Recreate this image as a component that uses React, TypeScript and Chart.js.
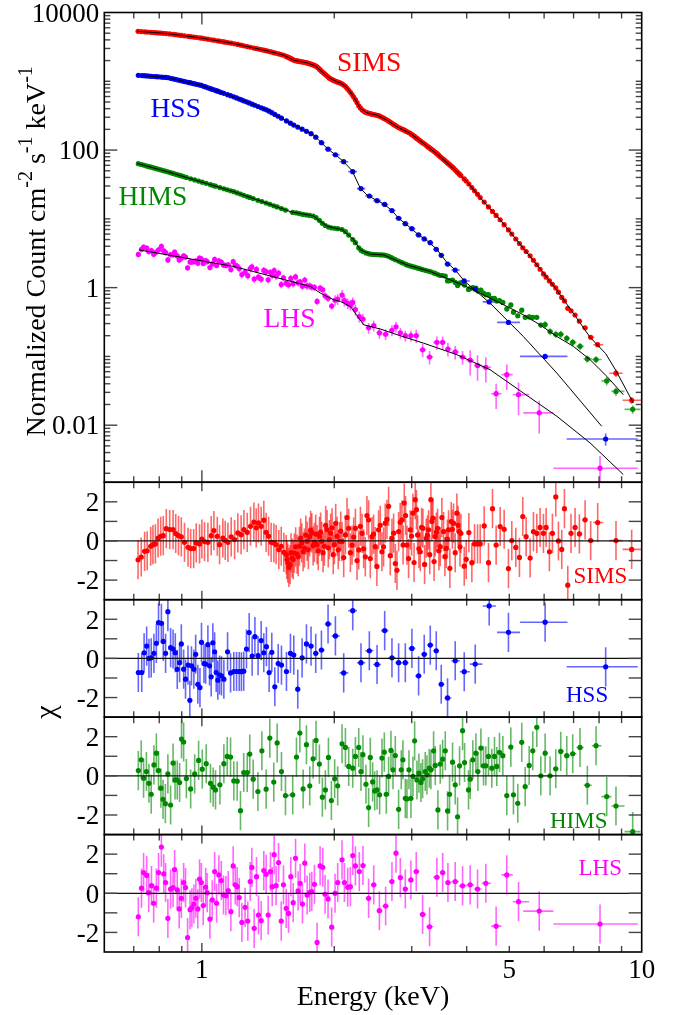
import React, { useEffect, useRef } from 'react';
import { Chart, registerables } from 'chart.js';

Chart.register(...registerables);

// ---------------- SIMS ----------------
const simsE = [0.716,0.728,0.741,0.751,0.765,0.774,0.784,0.795,0.806,0.817,0.830,
0.845,0.860,0.872,0.885,0.898,0.913,0.930,0.943,0.958,0.971,0.988,
1.000,1.014,1.032,1.050,1.065,1.084,1.097,1.116,1.130,1.146,1.166,
1.187,1.207,1.228,1.246,1.268,1.290,1.313,1.329,1.345,1.364,1.383,1.400,
1.418,1.437,1.458,1.475,1.496,1.515,1.536,1.555,1.568,
1.587,1.604,1.623,1.646,1.667,1.687,1.711,1.735,1.757,1.778,1.803,1.828,1.851,1.873,1.899,1.926,1.950,1.977,2.001,2.030,2.055,
2.083,2.120,2.157,2.195,2.234,2.273,2.313,2.353,2.394,2.436,2.479,2.522,2.567,2.612,2.658,2.705,
2.753,2.801,2.850,2.885,2.926,2.977,3.019,3.056,3.094,3.137,3.181,3.237,3.277,3.317,3.352,3.393,3.435,
3.483,3.544,3.594,3.638,3.689,3.734,3.800,3.847,3.880,
3.949,3.990,4.046,4.110,4.168,4.234,4.293,4.384,4.484,4.579,4.667,4.766,4.867,4.978,
5.066,5.173,5.273,5.366,5.461,5.576,5.674,5.774,5.875,5.979,6.063,6.169,6.266,6.377,6.467,6.580,6.673,6.791,6.907,7.055,7.217,7.435,7.656,7.943,8.740,9.488];
const simsF = [5320,5280,5240,5200,5150,5120,5090,5050,5020,4980,4940,
4880,4810,4754,4697,4641,4578,4508,4457,4399,4351,4289,
4238,4174,4094,4018,3957,3881,3831,3760,3709,3653,3585,
3511,3430,3348,3280,3200,3123,3047,2996,2946,2889,2834,2786,
2730,2670,2607,2557,2498,2446,2391,2300,2250,
2170,2090,2015,1975,1945,1915,1885,1851,1800,1760,1700,1620,1500,1390,1290,1190,1110,1060,1015,980,955,
915,845,740,640,540,440,385,355,343,333,325,316,300,282,264,245,
228,212,202,195,186,175,164,154,145,136,127,117,110,104,99,93,87,
80,73,67.5,63,58.5,54.5,48.5,45,42.5,
38,35.5,32.1,28.5,25.6,22.7,20.4,17.5,14.9,12.8,11.2,9.7,8.23,6.89,
6.0,5.09,4.38,3.8,3.35,2.9,2.5,2.15,1.85,1.58,1.42,1.25,1.12,0.99,0.86,0.72,0.64,0.50,0.46,0.40,0.325,0.26,0.19,0.148,0.057,0.023];
const simsChi = [-0.96,-0.82,-0.53,-0.50,-0.27,-0.19,-0.15,0.15,0.24,0.27,0.63,
0.58,0.58,0.38,0.27,0.21,-0.07,-0.32,-0.39,-0.39,-0.10,-0.15,
0.10,-0.03,-0.07,0.27,0.53,0.24,-0.19,0.15,0.03,-0.07,0.21,
0.07,0.41,0.32,0.58,0.44,0.75,0.96,0.67,0.92,0.75,1.06,0.44,
0.24,-0.07,-0.10,-0.19,-0.44,-0.27,-0.58,-0.70,-1.13,
-1.21,-0.87,-0.62,-0.67,-0.27,-0.10,-0.36,-0.02,0.21,0.41,-0.07,-0.19,0.24,-0.02,-0.27,0.58,0.07,0.67,-0.19,0.24,-0.02,
-0.03,0.31,0.65,-0.21,0.65,-0.46,0.39,-0.81,1.08,0.22,-0.29,0.57,-0.55,0.91,1.77,0.14,
-1.15,0.48,1.08,1.94,-0.21,0.57,1.42,2.11,0.31,-0.55,0.65,0.14,0.57,2.11,1.17,0.22,0.65,
-0.29,0.48,-0.38,0.57,0.99,0.91,1.42,0.48,0.39,
-1.29,-0.94,0.43,-1.11,-0.15,-0.15,-0.15,0.77,-1.11,1.65,-0.21,0.74,0.60,-1.41,
0.02,-0.33,-0.84,1.25,0.22,-0.87,0.48,0.39,0.69,0.39,0.69,-0.55,0.39,2.25,0.0,-0.43,1.65,-2.26,0.39,0.69,0.36,1.08,0.02,0.94,0.02,-0.43];
// extra (finer) SIMS bins inside the crowded 1.55-3.9 keV band
const simsDenseE = [1.561,1.577,1.595,1.613,1.634,1.656,1.677,1.699,1.723,1.746,1.767,1.790,1.815,1.839,1.862,1.886,1.912,1.938,1.963,1.989,2.015,2.042,
2.069,2.101,2.138,2.176,2.214,2.253,2.293,2.333,2.373,2.415,2.457,2.500,2.544,2.589,2.635,2.681,2.729,2.777,2.825,2.867,2.905,2.951,2.998,
3.037,3.075,3.115,3.159,3.209,3.257,3.297,3.334,3.372,3.414,3.459,3.513,3.569,3.616,3.663,3.711,3.767,3.823,3.863];
const simsDenseF = [2275,2210,2130,2052,1995,1960,1930,1900,1868,1825,1780,1730,1660,1560,1445,1340,1240,1150,1085,1037,997,967,
935,880,792,690,590,490,410,370,349,338,329,320,308,291,273,254,236,220,207,198,190,180,169,
159,149,140,131,122,113,107,101,96,90,83.5,76.5,70,65,60.7,56.5,51.4,46.7,43.7];
const simsDenseChi = [-0.95,-1.35,-0.6,-0.95,-0.3,-0.8,0.15,-0.55,0.3,-0.45,0.55,-0.25,0.35,-0.5,0.45,-0.6,0.8,-0.35,0.4,-0.7,0.9,-0.45,
0.5,-0.85,1.2,-0.6,0.2,-1.0,0.75,-0.4,1.3,-0.9,0.35,-1.3,0.8,-0.3,1.1,-0.75,0.4,-1.5,0.95,-0.2,1.3,-0.9,0.25,
-1.1,1.6,-0.4,0.7,-1.2,0.3,-0.7,1.0,-1.05,0.45,-0.5,1.2,-0.8,0.1,-1.4,0.6,-0.6,0.8,-0.3];
const simsModelE = [0.713,0.834,0.993,1.182,1.407,1.536,1.618,1.735,1.813,1.877,1.943,2.029,2.065,2.138,2.214,2.293,2.374,2.502,2.636,2.777,2.977,3.192,3.483,3.80,4.005,4.37,4.77,5.38,5.88,6.41,7.0,7.63,8.28,8.74,9.57];
const simsModelF = [5333,4933,4270,3532,2765,2391,2024,1851,1675,1371,1135,981,948,812,594,402,348,322,272,218,175,125,80,48.5,34.7,17.8,9.64,3.74,1.87,0.92,0.42,0.19,0.11,0.062,0.021];
const simsErrLevels = [[4, 0.01], [6, 0.02], [8, 0.05], [11, 0.12]];
const simsWideBins = [[7.943, 7.76, 8.18], [8.74, 8.44, 9.05], [9.488, 9.05, 10.0]];

// ---------------- HSS ----------------
const hssE = [0.717,0.730,0.739,0.749,0.758,0.767,0.778,0.788,0.797,0.809,0.817,0.827,0.837,
0.849,0.860,0.870,0.879,0.890,0.898,0.909,0.918,0.930,0.939,0.947,0.959,0.968,0.979,0.990,0.998,
1.011,1.020,1.032,1.041,1.050,1.059,1.069,1.078,1.087,1.097,1.108,1.122,
1.144,1.162,1.182,1.199,1.216,1.230,1.245,1.263,1.281,1.301,1.320,1.342,1.364,1.383,1.402,
1.422,1.442,1.465,1.491,1.517,1.557,1.590,1.618,1.652,1.690,1.729,1.771,1.815,1.870,1.936,2.012,
2.101,2.203,2.300,2.403,2.502,2.604,2.705,2.801,2.901,3.003,3.110,3.203,3.306,3.411,3.501,3.619,3.767,3.949,4.183,4.500,4.978,6.031,8.281];
const hssF = [1221,1212,1205,1197,1189,1182,1173,1165,1159,1150,1144,1137,1131,
1105,1084,1066,1050,1031,1018,1000,985,967,953,941,924,912,897,882,872,
843,827,805,790,775,760,744,730,717,702,687,668,
639,617,594,573,553,537,520,502,484,465,448,430,412,398,385,
367,349,330,310,291,265,246,231,216,201,187,173,154,128,103,85.4,
67.7,48.5,27.5,21.5,18.4,16.2,13.2,10.2,8.5,7.2,5.84,5.1,4.5,3.6,2.95,2.2,1.8,1.25,0.95,0.62,0.312,0.100,0.0063];
const hssChi = [-0.72,-0.72,0.29,0.63,0,0.03,0.26,0.77,1.83,1.79,0.87,0.26,2.39,
0.55,0.48,0.29,-0.56,-0.22,0.74,-0.55,-1.06,-0.34,-2.14,-0.38,-0.55,0.21,-1.32,-1.49,0.82,
-0.26,-0.29,0.70,-0.38,-0.94,0.80,0.34,-0.72,-1.11,-0.85,-0.89,-1.06,
0.34,-0.74,-0.67,-0.67,-0.67,-0.68,-0.65,0.48,1.32,0.12,1.11,0.14,0.91,0.29,0.60,
-0.72,0.31,-1.45,-0.26,-0.34,-0.67,0.26,0.17,-1.57,0.03,0.74,0.63,0.26,0.43,1.76,1.15,
-0.74,2.44,-0.22,0.39,-0.31,1.42,0.03,-0.22,-0.22,0.51,-0.89,0.21,0.68,0.39,-1.32,-2.02,-0.12,-0.68,-0.29,2.68,1.33,1.85,-0.43];
const hssModelE = [0.713,0.834,0.993,1.182,1.407,1.618,1.796,1.926,2.029,2.101,2.195,2.293,2.374,2.502,2.59,2.705,2.80,2.926,3.11,3.25,3.42,3.61,3.77,3.95,4.07,4.52,5.38,6.41,8.11];
const hssModelF = [1226,1134,878,594,381,231,165,106,81.8,67.7,50.1,27.8,22.2,18.4,16.5,13.2,10.2,8.16,5.84,4.83,3.62,2.3,1.8,1.25,1.06,0.595,0.195,0.0574,0.00965];
const hssErrLevels = [[3, 0.01], [4.3, 0.03], [5.5, 0.06], [7, 0.08], [11, 0.2]];
const hssWideBins = [[4.5, 4.35, 4.66], [4.978, 4.69, 5.29], [6.031, 5.29, 6.78], [8.281, 6.75, 9.79]];

// ---------------- HIMS ----------------
const himsE = [0.717,0.728,0.737,0.748,0.758,0.767,0.778,0.788,0.797,0.807,0.816,0.826,0.837,
0.849,0.860,0.869,0.879,0.890,0.899,0.909,0.922,0.943,0.963,0.983,
1.002,1.023,1.046,1.061,1.074,1.099,1.122,1.142,1.162,1.182,
1.203,1.224,1.245,1.268,1.285,1.308,1.341,1.369,1.400,1.427,1.457,1.483,1.517,1.549,
1.609,1.641,1.670,1.699,1.729,1.759,1.790,1.818,1.850,1.879,1.909,1.940,1.970,2.004,2.036,
2.083,2.120,2.157,2.203,2.234,2.273,2.300,2.324,2.361,2.394,
2.415,2.445,2.471,2.502,2.536,2.567,2.599,2.626,2.658,2.691,
2.720,2.753,2.801,2.840,2.865,2.901,2.926,2.957,2.988,3.019,
3.046,3.083,3.115,3.148,3.176,3.220,3.249,3.289,3.317,3.364,
3.393,3.441,3.483,3.527,3.576,3.619,3.657,3.715,3.767,3.814,
3.854,3.915,3.956,4.039,4.074,4.131,4.198,4.242,4.309,4.369,
4.422,4.484,4.563,4.627,4.683,4.750,4.834,4.935,5.040,5.110,
5.227,5.337,5.433,5.548,5.654,5.774,5.897,6.031,6.190,6.377,
6.545,6.755,6.970,7.241,7.524,7.875,8.326,8.740,9.539];
const himsF = [63.4,61.7,60.4,58.8,57.4,56.3,54.9,53.6,52.6,51.4,50.4,49.3,48.2,
46.9,45.7,44.8,43.8,42.8,42.0,41.1,40.0,38.3,36.8,35.4,
34.1,32.8,31.4,30.5,29.8,28.5,27.4,26.5,25.6,24.8,
23.8,22.9,22.0,21.1,20.5,19.7,18.6,17.8,17.0,16.3,15.5,14.9,14.1,13.4,
12.4,12.2,11.9,11.6,11.4,11.2,11.0,10.4,9.5,8.6,8.0,7.6,7.4,7.3,7.2,
7.0,6.5,5.8,5.0,4.5,3.8,3.5,3.35,3.2,3.12,
3.07,3.05,3.03,3.02,3.0,2.99,2.97,2.92,2.85,2.75,
2.65,2.55,2.43,2.34,2.28,2.2,2.14,2.09,2.05,2.01,
1.98,1.94,1.9,1.86,1.83,1.79,1.76,1.73,1.70,1.64,
1.61,1.55,1.50,1.50,1.47,1.25,1.26,1.29,1.19,1.07,
1.16,1.19,1.09,0.94,0.97,1.0,0.98,0.89,0.92,0.83,
0.79,0.79,0.70,0.70,0.64,0.65,0.61,0.49,0.56,0.44,
0.39,0.47,0.37,0.375,0.37,0.37,0.285,0.29,0.23,0.21,
0.21,0.183,0.16,0.14,0.092,0.09,0.044,0.031,0.017];
const himsChi = [0.27,0.82,-0.12,0.22,-0.38,-0.94,0.56,1.16,0.27,-0.63,-1.20,-1.42,0.10,
-1.49,0.65,-0.21,-0.21,-0.34,1.88,1.73,-0.14,-0.67,0.10,0.79,
0.34,0.62,-0.38,-0.58,-0.72,-0.46,0.62,0.99,0.96,-0.26,
-0.27,-1.78,0.17,0.17,1.11,-0.17,-0.80,1.28,-0.68,1.93,-0.32,1.68,0.22,-1.01,
-0.97,0.96,2.19,-0.67,1.59,-0.51,0.87,1.81,0.60,-1.09,-0.72,0.94,-1.26,-0.15,-0.51,
1.64,1.45,0.48,0.39,0.99,1.45,0.22,1.08,-0.43,-1.62,
0.94,-0.31,-0.77,-0.72,-0.97,0.91,1.21,-0.94,-0.03,1.30,
0.31,1.04,-1.71,0.31,0.82,-1.15,-1.18,0.31,-1.15,-0.03,
1.79,-0.21,0.14,-0.34,-0.15,0.22,0.05,0.39,0.31,1.28,
0.53,-1.74,0.60,0.85,1.28,-1.79,-0.94,0.70,-0.46,-2.09,
0.51,2.31,0.68,-0.72,-0.17,0.82,1.16,0.22,1.42,0.51,
0.51,0.99,0.39,0.99,0.48,1.20,1.03,-1.01,1.47,-0.97,
-1.40,1.71,-0.55,0.53,1.28,2.48,0.0,1.16,0.0,0.36,
1.25,1.03,1.13,1.45,-0.48,1.54,-1.06,-1.54,-2.85];
const himsModelE = [0.713,0.834,0.993,1.182,1.407,1.59,1.796,1.85,1.926,2.029,2.083,2.214,2.293,2.415,2.59,2.926,3.31,3.67,4.15,4.52,4.94,5.38,5.87,6.41,6.99,7.63,8.33,9.08];
const himsModelF = [64.0,48.5,34.7,24.8,16.8,12.7,11.0,9.4,7.8,7.2,7.0,4.94,3.54,3.07,2.99,2.14,1.71,1.30,0.929,0.703,0.532,0.403,0.288,0.195,0.140,0.0896,0.0513,0.0278];
const himsErrLevels = [[2, 0.02], [3.5, 0.03], [4, 0.04], [6, 0.08], [8, 0.12], [11, 0.14]];
const himsWideBins: number[][] = [];

// ---------------- LHS ----------------
const lhsE = [0.717,0.729,0.737,0.749,0.757,0.768,0.777,0.788,0.797,0.809,0.819,0.827,
0.837,0.849,0.860,0.867,0.879,0.888,0.898,0.909,0.918,0.928,0.940,0.949,0.959,0.969,0.979,0.988,0.997,
1.007,1.020,1.028,1.043,1.056,1.069,1.080,1.093,1.107,1.120,1.134,1.148,1.164,1.178,
1.191,1.203,1.216,1.233,1.254,1.272,1.288,1.299,1.315,1.331,1.345,1.364,1.383,1.400,
1.415,1.432,1.445,1.460,1.475,1.494,1.515,1.533,1.555,1.574,1.593,1.613,1.633,1.655,1.673,1.693,1.714,1.735,1.759,
1.778,1.803,1.828,1.857,1.883,1.906,1.936,1.973,2.008,2.036,
2.083,2.109,2.146,2.176,2.203,2.234,2.280,2.324,2.394,2.459,2.533,2.617,2.705,2.763,2.826,2.901,2.987,3.072,3.176,3.294,3.422,3.527,3.626,3.767,3.915,4.074,4.234,4.422,4.667,4.935,5.247,5.848,8.04];
const lhsF = [3.04,3.60,3.88,3.75,3.35,3.44,3.05,3.29,3.55,3.98,3.42,3.23,
2.53,3.01,3.00,3.29,2.89,2.52,2.67,2.90,2.78,1.94,2.36,2.36,2.39,2.45,2.27,2.69,2.61,
2.25,2.48,2.38,1.96,2.21,2.57,2.10,2.46,2.35,2.14,2.10,2.14,1.83,2.38,
2.10,2.05,1.89,1.55,1.68,1.49,1.89,2.00,1.33,1.84,1.42,1.33,1.78,1.71,
1.30,1.67,1.51,1.77,1.47,1.63,1.11,1.39,1.16,1.10,1.36,1.14,1.43,1.18,1.21,1.05,1.29,1.06,1.06,
1.02,1.01,0.63,0.98,0.93,0.76,0.70,0.54,0.655,0.68,
0.78,0.65,0.59,0.56,0.61,0.48,0.38,0.35,0.26,0.28,0.22,0.21,0.24,0.27,0.22,0.20,0.20,0.20,0.125,0.098,0.16,0.16,0.128,0.116,0.098,0.088,0.074,0.0693,0.0287,0.0543,0.0278,0.0151,0.00237];
const lhsChi = [-1.20,0.26,1.06,0.91,0.03,0.39,-0.51,0.26,1.06,2.36,0.99,0.55,
-1.28,0.21,0.29,1.21,0.17,-0.80,-0.26,0.55,0.29,-2.26,-0.84,-0.74,-0.55,-0.26,-0.80,0.72,0.55,
-0.63,0.31,0.03,-1.32,-0.34,1.11,-0.51,0.94,0.65,-0.09,-0.12,0.14,-0.94,1.40,
0.43,0.34,-0.22,-1.49,-0.72,-1.42,0.60,1.32,-1.79,0.85,-1.11,-1.40,1.16,0.97,
-1.11,1.11,0.34,1.97,0.39,1.57,-1.42,0.43,-0.77,-1.03,0.85,-0.48,1.79,0.12,0.51,-0.55,1.54,-0.09,0.05,
0.09,0.46,-2.51,1.40,1.33,-0.05,-0.29,-1.73,0.0,0.55,
1.71,0.55,0.31,0.34,1.93,1.40,1.11,1.42,-0.26,0.43,-0.89,-0.65,0.60,2.05,0.80,0.22,0.68,1.11,-1.08,-1.71,0.82,1.06,0.55,0.60,0.38,0.43,0.22,0.51,-1.68,0.94,-0.43,-0.91,-1.57];
const lhsModelE = [0.719,1.182,1.766,1.861,1.994,2.065,2.176,2.333,2.545,2.777,3.19,3.80,4.52,5.38,6.41,7.63,9.08];
const lhsModelF = [3.54,2.03,1.04,0.831,0.665,0.629,0.532,0.288,0.250,0.207,0.156,0.106,0.0641,0.0294,0.0135,0.00553,0.00192];
const lhsErrLevels = [[1.2, 0.10], [2, 0.12], [3, 0.18], [4, 0.22], [5, 0.4], [11, 0.5]];
const lhsWideBins = [[5.848, 5.38, 6.30], [8.04, 6.30, 9.79]];

// ---------------- axes ----------------
const xTickLabels = [1, 5, 10];
const xMajorTickValues = [1];
const xMinorTickValues = [0.7, 0.8, 0.9, 2, 3, 4, 5, 6, 7, 8, 9];
const yMainTickLabels = [10000, 100, 1, 0.01];
const residTickLabels = [-2, 0, 2];
const residTickValues = [-2, -1, 0, 1, 2];

const W = 679;
const H = 1015;
const FONT = '"Liberation Serif", "Times New Roman", Times, serif';

// merge the main SIMS bins with the finer bins of the crowded band (sorted by energy)
const simsAll = simsE.map((e, i) => [e, simsF[i], simsChi[i]])
  .concat(simsDenseE.map((e, i) => [e, simsDenseF[i], simsDenseChi[i]]))
  .sort((a, b) => a[0] - b[0]);

const states = [
  { name: 'SIMS', color: '#ff0000', err: 'rgba(255,0,0,0.6)', E: simsAll.map((r) => r[0]), F: simsAll.map((r) => r[1]), chi: simsAll.map((r) => r[2]), mE: simsModelE, mF: simsModelF, lev: simsErrLevels, wide: simsWideBins, axis: 'r1' },
  { name: 'HSS', color: '#0000ff', err: 'rgba(0,0,255,0.6)', E: hssE, F: hssF, chi: hssChi, mE: hssModelE, mF: hssModelF, lev: hssErrLevels, wide: hssWideBins, axis: 'r2' },
  { name: 'HIMS', color: '#008800', err: 'rgba(0,136,0,0.6)', E: himsE, F: himsF, chi: himsChi, mE: himsModelE, mF: himsModelF, lev: himsErrLevels, wide: himsWideBins, axis: 'r3' },
  { name: 'LHS', color: '#ff00ff', err: 'rgba(255,0,255,0.6)', E: lhsE, F: lhsF, chi: lhsChi, mE: lhsModelE, mF: lhsModelF, lev: lhsErrLevels, wide: lhsWideBins, axis: 'r4' },
];

function relErr(levels: number[][], e: number) {
  for (const [emax, r] of levels) if (e < emax) return r;
  return levels[levels.length - 1][1];
}

function binEdges(E: number[], wide: number[][]) {
  return E.map((e, i) => {
    const w = wide.find((b) => Math.abs(b[0] - e) < 1e-6);
    if (w) return [w[1], w[2]];
    const lo = i > 0 ? (E[i - 1] + e) / 2 : e - (E[1] - e) / 2;
    const hi = i < E.length - 1 ? (e + E[i + 1]) / 2 : e + (e - E[i - 1]) / 2;
    return [lo, hi];
  });
}

function buildDatasets() {
  const ds: any[] = [];
  states.forEach((s) => {
    ds.push({
      type: 'scatter',
      data: s.mE.map((x, i) => ({ x, y: s.mF[i] })),
      showLine: true,
      borderColor: '#000',
      borderWidth: 1,
      pointRadius: 0,
      tension: 0,
      xAxisID: 'x',
      yAxisID: 'yMain',
      order: 0,
    });
  });
  states.forEach((s) => {
    const edges = binEdges(s.E, s.wide);
    ds.push({
      type: 'scatter',
      data: s.E.map((x, i) => {
        const r = relErr(s.lev, x);
        return { x, y: s.F[i], xMin: edges[i][0], xMax: edges[i][1], yMin: s.F[i] * (1 - r), yMax: s.F[i] * (1 + r) };
      }),
      pointRadius: 2.6,
      pointBorderWidth: 0,
      backgroundColor: s.color,
      borderColor: s.color,
      errColor: s.err,
      xAxisID: 'x',
      yAxisID: 'yMain',
      order: 1,
    });
    ds.push({
      type: 'scatter',
      data: s.E.map((x, i) => ({ x, y: s.chi[i], xMin: edges[i][0], xMax: edges[i][1], yMin: s.chi[i] - 1, yMax: s.chi[i] + 1 })),
      pointRadius: 2.6,
      pointBorderWidth: 0,
      backgroundColor: s.color,
      borderColor: s.color,
      errColor: s.err,
      xAxisID: 'x',
      yAxisID: s.axis,
      order: 1,
    });
  });
  return ds;
}

const errorBarPlugin = {
  id: 'errbars',
  beforeDatasetsDraw(chart: any) {
    const ctx = chart.ctx;
    const ca = chart.chartArea;
    chart.data.datasets.forEach((ds: any, di: number) => {
      if (!ds.errColor) return;
      const meta = chart.getDatasetMeta(di);
      const xs = chart.scales[meta.xAxisID];
      const ys = chart.scales[meta.yAxisID];
      ctx.save();
      ctx.beginPath();
      ctx.rect(ca.left, ys.top, ca.right - ca.left, ys.bottom - ys.top);
      ctx.clip();
      ctx.strokeStyle = ds.errColor;
      ctx.lineWidth = 1.6;
      for (const p of ds.data) {
        const px = xs.getPixelForValue(p.x);
        const py = ys.getPixelForValue(p.y);
        ctx.beginPath();
        ctx.moveTo(xs.getPixelForValue(p.xMin), py);
        ctx.lineTo(xs.getPixelForValue(p.xMax), py);
        ctx.stroke();
        ctx.beginPath();
        ctx.moveTo(px, ys.getPixelForValue(p.yMin));
        ctx.lineTo(px, ys.getPixelForValue(p.yMax));
        ctx.stroke();
      }
      ctx.restore();
    });
  },
};

function drawYTitle(ctx: CanvasRenderingContext2D, bx: number, cy: number) {
  const parts = [
    { t: 'Normalized Count cm', sup: false },
    { t: '-2', sup: true },
    { t: ' s', sup: false },
    { t: '-1', sup: true },
    { t: ' keV', sup: false },
    { t: '-1', sup: true },
  ];
  const big = `28px ${FONT}`;
  const small = `20px ${FONT}`;
  let total = 0;
  const widths = parts.map((p) => {
    ctx.font = p.sup ? small : big;
    const w = ctx.measureText(p.t).width;
    total += w;
    return w;
  });
  ctx.save();
  ctx.translate(bx, cy);
  ctx.rotate(-Math.PI / 2);
  ctx.textAlign = 'left';
  ctx.textBaseline = 'alphabetic';
  let u = -total / 2;
  parts.forEach((p, i) => {
    ctx.font = p.sup ? small : big;
    ctx.fillText(p.t, u, p.sup ? -13 : 0);
    u += widths[i];
  });
  ctx.restore();
}

const decorPlugin = {
  id: 'decor',
  afterDatasetsDraw(chart: any) {
    const ctx = chart.ctx;
    const ca = chart.chartArea;
    const xs = chart.scales.x;
    const L = ca.left;
    const R = ca.right;
    const seg = (x1: number, y1: number, x2: number, y2: number) => {
      ctx.beginPath();
      ctx.moveTo(x1, y1);
      ctx.lineTo(x2, y2);
      ctx.stroke();
    };
    ctx.save();
    // zero lines
    ctx.strokeStyle = '#111';
    ctx.lineWidth = 1.2;
    ['r1', 'r2', 'r3', 'r4'].forEach((id) => {
      const y = chart.scales[id].getPixelForValue(0);
      seg(L, y, R, y);
    });
    // ticks
    const panelIds = ['yMain', 'r1', 'r2', 'r3', 'r4'];
    ctx.strokeStyle = '#444';
    ctx.lineWidth = 1.4;
    panelIds.forEach((id, k) => {
      const s = chart.scales[id];
      const T = s.top;
      const B = s.bottom;
      const majLen = k === 0 ? 12 : 9;
      const minLen = 6;
      xMinorTickValues.forEach((v) => {
        const x = xs.getPixelForValue(v);
        seg(x, T, x, T + minLen);
        seg(x, B, x, B - minLen);
      });
      xMajorTickValues.forEach((v) => {
        const x = xs.getPixelForValue(v);
        seg(x, T, x, T + majLen);
        seg(x, B, x, B - majLen);
      });
      if (k === 0) {
        for (let e = -3; e <= 4; e++) {
          for (let m = 1; m <= 9; m++) {
            const v = m * Math.pow(10, e);
            if (v <= s.min * 1.0001 || v >= s.max * 0.9999) continue;
            const major = yMainTickLabels.some((t) => Math.abs(t - v) / t < 1e-6);
            const len = major ? 13 : 6;
            const y = s.getPixelForValue(v);
            seg(L, y, L + len, y);
            seg(R, y, R - len, y);
          }
        }
      } else {
        residTickValues.forEach((v) => {
          const y = s.getPixelForValue(v);
          seg(L, y, L + 13, y);
          seg(R, y, R - 13, y);
        });
      }
    });
    // frames
    ctx.strokeStyle = '#000';
    ctx.lineWidth = 1.6;
    panelIds.forEach((id) => {
      const s = chart.scales[id];
      ctx.strokeRect(L, s.top, R - L, s.bottom - s.top);
    });
    // tick labels
    ctx.fillStyle = '#000';
    ctx.font = `27px ${FONT}`;
    ctx.textAlign = 'right';
    ctx.textBaseline = 'alphabetic';
    const yMain = chart.scales.yMain;
    yMainTickLabels.forEach((v) => {
      ctx.fillText(String(v), L - 5, yMain.getPixelForValue(v) + 9.3);
    });
    ['r1', 'r2', 'r3', 'r4'].forEach((id) => {
      const s = chart.scales[id];
      residTickLabels.forEach((v) => {
        ctx.fillText(String(v), L - 5, s.getPixelForValue(v) + 9.3);
      });
    });
    ctx.textAlign = 'center';
    xTickLabels.forEach((v) => {
      ctx.fillText(String(v), xs.getPixelForValue(v), ca.bottom + 26);
    });
    // axis titles
    ctx.font = `28px ${FONT}`;
    ctx.fillText('Energy (keV)', (L + R) / 2, ca.bottom + 53);
    drawYTitle(ctx, 45, (yMain.top + yMain.bottom) / 2 + 4);
    ctx.save();
    ctx.translate(47, (chart.scales.r1.top + chart.scales.r4.bottom) / 2 - 5);
    ctx.rotate(-Math.PI / 2);
    ctx.font = `30px ${FONT}`;
    ctx.textAlign = 'center';
    ctx.textBaseline = 'middle';
    ctx.fillText('\u03C7', 0, 0);
    ctx.restore();
    // state labels
    ctx.textAlign = 'left';
    ctx.textBaseline = 'alphabetic';
    const mainLabelPos = [[337, 71], [150.5, 116.5], [118.5, 205], [263.5, 327]];
    const residLabelPos = [[573.5, 582.5], [566, 702], [550, 827.5], [578.5, 875]];
    states.forEach((s, i) => {
      ctx.fillStyle = s.color;
      ctx.font = `27.5px ${FONT}`;
      ctx.fillText(s.name, mainLabelPos[i][0], mainLabelPos[i][1]);
      ctx.font = `23px ${FONT}`;
      ctx.fillText(s.name, residLabelPos[i][0], residLabelPos[i][1]);
    });
    ctx.restore();
  },
};

export default function App() {
  const ref = useRef<HTMLCanvasElement>(null);
  useEffect(() => {
    document.body.style.margin = '0';
    const canvas = ref.current;
    if (!canvas) return;
    const chart = new Chart(canvas, {
      type: 'scatter',
      data: { datasets: buildDatasets() },
      options: {
        responsive: false,
        animation: false,
        devicePixelRatio: 1,
        events: [],
        layout: { padding: { left: 104.3, right: 37.3, top: 12.5, bottom: 63 } },
        plugins: { legend: { display: false }, tooltip: { enabled: false } },
        scales: {
          x: { type: 'logarithmic', min: 0.6, max: 10, display: false, position: 'bottom' },
          yMain: { type: 'logarithmic', min: 0.00148, max: 10000, display: false, position: 'left', stack: 'p', stackWeight: 4, weight: 5 },
          r1: { type: 'linear', min: -3, max: 3, display: false, position: 'left', stack: 'p', stackWeight: 1, weight: 4 },
          r2: { type: 'linear', min: -3, max: 3, display: false, position: 'left', stack: 'p', stackWeight: 1, weight: 3 },
          r3: { type: 'linear', min: -3, max: 3, display: false, position: 'left', stack: 'p', stackWeight: 1, weight: 2 },
          r4: { type: 'linear', min: -3, max: 3, display: false, position: 'left', stack: 'p', stackWeight: 1, weight: 1 },
        },
      } as any,
      plugins: [errorBarPlugin, decorPlugin],
    });
    return () => chart.destroy();
  }, []);
  return (
    <div style={{ position: 'absolute', left: 0, top: 0, width: W, height: H, background: '#fff' }}>
      <canvas ref={ref} width={W} height={H} style={{ display: 'block', width: W, height: H }} />
    </div>
  );
}
